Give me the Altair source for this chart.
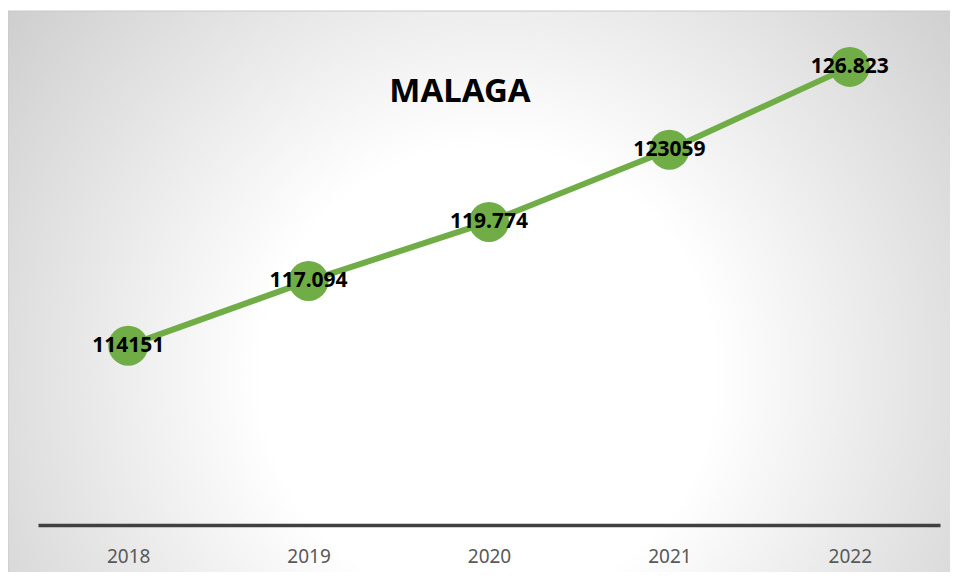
import altair as alt
import pandas as pd

years = ["2018", "2019", "2020", "2021", "2022"]
values = [114151, 117094, 119774, 123059, 126823]
labels = ["114151", "117.094", "119.774", "123059", "126.823"]

df = pd.DataFrame({"year": years, "value": values, "label": labels})

W, H = 902, 484

x_enc = alt.X("year:O", scale=alt.Scale(type="point", padding=0.5),
              axis=alt.Axis(title=None, ticks=False, tickSize=0, grid=False,
                            domainColor="#404040", domainWidth=3.5,
                            labelColor="#595959", labelFontSize=19,
                            labelFont="Noto Sans", labelPadding=22, labelAngle=0,
                            zindex=1))
y_enc = alt.Y("value:Q", scale=alt.Scale(domain=[106000, 128000], nice=False, zero=False),
              axis=None)

bg = alt.Chart(pd.DataFrame({"a": [0]})).mark_rect(
    fill={
        "gradient": "radial",
        "x1": 0.5, "y1": 0.58, "r1": 0,
        "x2": 0.5, "y2": 0.58, "r2": 0.74,
        "stops": [
            {"offset": 0, "color": "#ffffff"},
            {"offset": 0.32, "color": "#ffffff"},
            {"offset": 1, "color": "#c0c0c0"},
        ],
    },
    stroke="#c8c8c8", strokeWidth=1,
).encode(x=alt.value(-30), x2=alt.value(930), y=alt.value(-30), y2=alt.value(545))

base = alt.Chart(df).encode(x=x_enc, y=y_enc)

line = base.mark_line(color="#70AD47", strokeWidth=6)
pts = base.mark_point(filled=True, color="#70AD47", opacity=1, size=1600)
txt = base.mark_text(font="Noto Sans", fontWeight="bold", fontSize=21,
                     color="black", baseline="middle", align="center").encode(text="label:N")

title = alt.Chart(pd.DataFrame({"t": ["MALAGA"]})).mark_text(
    font="Noto Sans", fontWeight="bold", fontSize=33, color="black",
    baseline="middle", align="center"
).encode(text="t:N", x=alt.value(422), y=alt.value(51))

chart = alt.layer(bg, line, pts, txt, title).properties(
    width=W, height=H,
    autosize=alt.AutoSizeParams(type="none"),
    padding={"left": 30, "top": 33, "right": 10, "bottom": 47},
).configure_view(stroke=None)

chart.save("out.html", embed_options={"renderer": "svg", "actions": False})
